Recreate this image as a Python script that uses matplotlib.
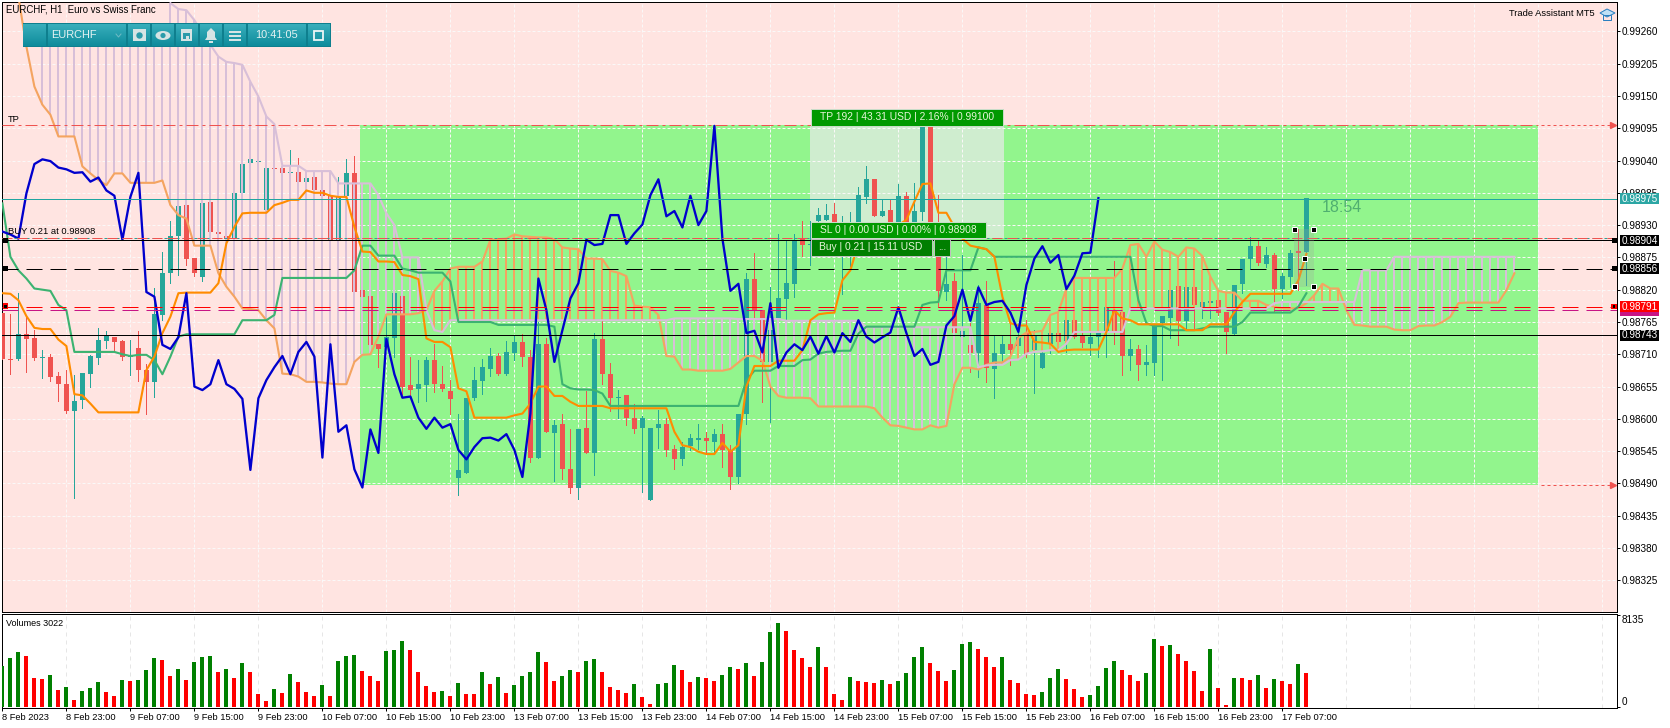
import matplotlib
matplotlib.use("Agg")
import matplotlib.pyplot as plt
from matplotlib.patches import Rectangle, Circle, Ellipse, Polygon
from matplotlib.colors import LinearSegmentedColormap
import numpy as np

plt.rcParams['font.family'] = ['Liberation Sans', 'DejaVu Sans']

# EURCHF H1 candles, prices in points (1e-5)
opens = [98780,98702,98702,98745,98738,98704,98705,98673,98659,98614,
 98632,98677,98704,98733,98739,98732,98706,98721,98683,98663,
 98777,98849,98911,98964,98874,98842,98969,98918,98912,98907,
 98985,99035,99038,98956,99028,99027,99018,99020,99004,99012,
 98989,98980,98905,98980,99019,98819,98809,98728,98723,98738,
 98809,98657,98651,98657,98700,98660,98648,98499,98508,98635,
 98665,98685,98707,98676,98713,98731,98705,98534,98728,98576,
 98591,98515,98483,98584,98542,98736,98677,98636,98640,98602,
 98584,98462,98584,98591,98548,98532,98554,98564,98568,98561,
 98574,98547,98501,98609,98839,98785,98697,98771,98804,98830,
 98907,98896,98937,98939,98949,98898,98916,98933,98978,99008,
 98945,98956,98936,98980,98936,98953,99099,98907,98816,98835,
 98740,98726,98713,98794,98685,98710,98727,98724,98746,98717,
 98687,98728,98746,98733,98769,98741,98727,98740,98746,98785,
 98782,98707,98719,98692,98695,98763,98771,98826,98767,98824,
 98791,98798,98803,98782,98744,98829,98873,98894,98864,98879,
 98821,98842,98886,98885]
closes = [98702,98701,98745,98736,98703,98706,98672,98660,98614,98630,
 98678,98707,98734,98742,98731,98706,98708,98684,98663,98778,
 98849,98912,98962,98873,98849,98967,98919,98914,98907,98984,
 99034,99042,99039,99028,99025,99019,99020,99004,99011,98989,
 98980,98905,98978,99019,98816,98808,98726,98719,98739,98814,
 98655,98649,98659,98700,98659,98651,98634,98513,98635,98666,
 98688,98707,98676,98714,98731,98706,98534,98727,98578,98589,
 98514,98483,98582,98542,98736,98676,98636,98638,98602,98583,
 98602,98585,98591,98547,98531,98552,98567,98568,98563,98574,
 98547,98501,98609,98839,98785,98697,98751,98805,98831,98905,
 98896,98898,98947,98947,98898,98916,98931,98981,99008,98945,
 98954,98926,98980,98930,98954,99099,98907,98818,98830,98746,
 98750,98713,98797,98687,98713,98727,98717,98740,98711,98741,
 98713,98746,98731,98768,98740,98730,98739,98747,98790,98746,
 98707,98719,98692,98697,98759,98775,98820,98767,98824,98794,
 98799,98801,98781,98748,98828,98873,98894,98866,98879,98821,
 98844,98882,98883,98976]
highs = [98780,98778,98814,98774,98751,98718,98711,98679,98683,98675,
 98678,98708,98754,98750,98740,98734,98734,98749,98694,98823,
 98884,98937,98962,98964,98874,98967,98969,98918,98912,98984,
 99034,99042,99040,99028,99028,99027,99058,99044,99011,99012,
 98989,98980,99012,99043,99048,98819,98809,98728,98777,98814,
 98809,98705,98700,98705,98728,98690,98666,98609,98635,98688,
 98702,98720,98713,98733,98743,98745,98717,98765,98737,98598,
 98609,98582,98582,98648,98746,98767,98695,98649,98640,98626,
 98604,98585,98615,98601,98555,98561,98575,98592,98578,98582,
 98591,98555,98609,98849,98882,98785,98824,98915,98903,98915,
 98937,98937,98959,98966,98968,98945,98952,98995,99031,99008,
 98972,98973,99000,98986,99001,99100,99100,98981,98877,98848,
 98879,98763,98828,98834,98743,98743,98765,98757,98768,98751,
 98746,98746,98751,98768,98769,98751,98751,98747,98790,98868,
 98782,98736,98726,98726,98759,98775,98820,98826,98824,98824,
 98799,98802,98805,98782,98828,98873,98909,98904,98892,98882,
 98848,98888,98924,98976]
lows = [98702,98677,98700,98680,98700,98670,98665,98631,98610,98466,
 98618,98655,98694,98720,98714,98700,98675,98665,98609,98638,
 98768,98831,98845,98862,98843,98834,98919,98914,98907,98907,
 98985,99035,99037,98956,99025,99019,99018,99004,99004,98989,
 98980,98905,98905,98980,98816,98808,98726,98688,98723,98706,
 98643,98638,98629,98631,98646,98647,98609,98470,98508,98632,
 98643,98673,98675,98675,98701,98690,98527,98534,98578,98494,
 98498,98474,98464,98541,98504,98659,98614,98602,98589,98576,
 98476,98462,98551,98537,98515,98521,98547,98548,98541,98541,
 98518,98480,98490,98592,98771,98629,98595,98760,98768,98808,
 98877,98862,98937,98939,98898,98813,98860,98930,98968,98945,
 98945,98926,98936,98930,98936,98938,98900,98791,98802,98744,
 98737,98680,98672,98663,98636,98694,98692,98706,98706,98644,
 98687,98713,98714,98714,98737,98723,98709,98706,98706,98728,
 98675,98683,98666,98675,98675,98666,98737,98726,98751,98751,
 98771,98771,98777,98713,98744,98814,98856,98862,98859,98782,
 98805,98825,98819,98828]

volumes = [3599,4337,4897,4543,2596,2508,2862,1534,1800,649,
 1446,1711,2242,1357,1003,2419,2331,2419,3304,4366,
 4189,2773,3393,2419,4012,4455,4484,3127,3393,2596,
 3924,3127,1180,561,1623,1269,2950,2242,1357,1003,
 1977,1003,4101,4543,4632,3216,2773,2331,4986,5074,
 5871,5074,3127,1888,1357,1446,1003,2154,1180,1151,
 3127,2065,2685,1269,1977,2773,3127,4897,4012,2331,
 2744,3275,3098,4071,4248,3098,1770,1505,1239,2036,
 885,266,2036,2124,3717,3275,2213,2655,2567,2301,
 2832,3540,3363,3894,2744,3983,6638,7434,6726,5045,
 4337,3540,5310,3540,1151,620,2655,2301,2213,2124,
 2390,2036,2301,3009,4425,5310,3894,3186,2301,3275,
 5576,5753,5133,4425,3540,4425,2390,2124,1151,1062,
 1328,2567,3363,2478,1593,885,1062,1859,3452,4071,
 3275,2832,2301,3009,6018,5399,5487,4691,4071,3186,
 1416,5133,1682,177,2567,2537,2390,2832,1682,2478,
 2301,2036,3806,3022]

# Ichimoku, same points unit
tenkan = [98814,98813,98802,98775,98755,98753,98753,98735,98724,98642,98640,98626,
 98611,98611,98611,98611,98611,98611,98683,98706,98746,98774,98814,98815,98815,98815,98815,
 98831,98899,98927,98950,98951,98951,98951,98964,98968,98973,98973,98989,98985,98985,
 98980,98978,98978,98927,98885,98884,98868,98868,98867,98845,98843,98838,98737,98731,98731,
 98722,98652,98647,98602,98602,98602,98602,98602,98606,98609,98626,98655,98655,98639,
 98639,98629,98622,98622,98622,98622,98618,98618,98618,98618,98618,98618,98618,98618,
 98578,98555,98552,98544,98540,98540,98559,98544,98555,98655,98690,98690,98690,
 98699,98699,98699,98717,98768,98778,98780,98781,98836,98853,98899,98922,98930,98930,98930,98930,
 98939,98970,99000,99001,98951,98951,98927,98907,98895,98892,98889,98876,98808,98763,98759,98759,
 98731,98730,98728,98714,98717,98718,98718,98718,98718,98748,98785,98771,98768,
 98761,98761,98761,98761,98761,98761,98751,98751,98751,98761,98761,98761,98782,98799,
 98813,98813,98813,98813,98813,98813,98836,98881]
kijun = [98967,98876,98853,98839,98822,98820,98818,98794,98785,
 98714,98714,98714,98714,98714,98714,98710,98707,98709,98709,98700,98676,98706,98740,
 98744,98744,98744,98744,98744,98744,98744,98768,98768,98768,98768,98777,
 98840,98840,98840,98840,98840,98840,98840,98840,98840,98853,98895,98895,98878,98878,98878,
 98856,98853,98849,98849,98849,98849,98834,98765,98765,98765,98765,98765,
 98760,98760,98760,98760,98760,98760,98760,98757,98659,98652,98650,98650,98649,98643,
 98622,98622,98622,98622,98622,98622,98622,98622,98622,98622,98622,98622,98622,98622,98622,98622,98622,
 98666,98682,98682,98682,98690,98690,98690,98700,98701,98711,98714,98715,98716,98716,98745,
 98757,98757,98757,98757,98757,98757,98757,98794,98798,98799,98853,98853,98853,98853,98892,98889,
 98876,98876,98876,98876,98876,98876,98876,98876,98876,98876,98876,98876,98876,98876,98876,98876,98876,98876,
 98802,98763,98758,98758,98751,98751,98751,98751,98754,98757,98757,98757,98757,98765,
 98781,98781,98781,98781,98781,98781,98791,98814]
senkou_a = [99410,99365,99319,99234,99166,99135,99118,99081,99081,99081,99030,99018,99007,98998,
 99018,99018,99002,99002,99002,99002,99006,98964,98947,98941,98895,98895,98895,98848,98825,98808,
 98788,98787,98785,98768,98754,98677,98676,98672,98663,98663,98662,98660,98659,98659,98697,98709,98710,98740,
 98778,98778,98778,98778,98780,98785,98818,98834,98856,98859,98859,98859,98868,98905,98906,98907,98914,
 98911,98910,98909,98909,98906,98892,98890,98889,98873,98873,98872,98852,98849,98843,98793,98791,98790,98777,
 98707,98706,98684,98684,98682,98682,98682,98682,98685,98696,98707,98707,98699,98655,98639,98636,98636,98636,98635,
 98621,98621,98621,98621,98621,98621,98621,98618,98602,98589,98588,98585,98582,98582,98589,98585,98588,98659,
 98687,98687,98684,98692,98696,98696,98706,98738,98747,98748,98750,98777,98782,98822,
 98840,98840,98840,98840,98840,98840,98856,98896,98898,98876,98902,98888,98884,98876,98892,98890,98877,98842,98818,
 98815,98815,98801,98801,98801,98794,98791,98788,98788,98789,98797,98811,98830,98822,98822,98785,98760,98759,
 98757,98757,98757,98752,98751,98751,98758,98759,98759,98765,98774,98797,98798,98798,98798,98798,98798,98819,98848]
nan = float('nan')
# the first bars of span B sit off the chart, the next ones behind the toolbar
senkou_b = [nan]*5 + [99262]*16 + [99308,99298,99296,99279,99257,99237,99217,99208,99206,99203,99174,99149,99115,99102] \
 + [99031]*3 + [99022]*4 + [99001]*5 + [98981,98950,98930,98875,98875,98875,98785,98751,98748] \
 + [98768]*28 + [98771]*8 + [98770]*6 + [98767]*10 + [98756]*14 \
 + [98688,98691,98692,98692,98700,98701,98711,98714,98715,98717,98717,98728] \
 + [98748]*7 + [98788]*18 + [98797] + [98799]*10 + [98853]*4 + [98876]*16

x_labels = ['8 Feb 2023','8 Feb 23:00','9 Feb 07:00','9 Feb 15:00','9 Feb 23:00','10 Feb 07:00','10 Feb 15:00',
 '10 Feb 23:00','13 Feb 07:00','13 Feb 15:00','13 Feb 23:00','14 Feb 07:00','14 Feb 15:00','14 Feb 23:00',
 '15 Feb 07:00','15 Feb 15:00','15 Feb 23:00','16 Feb 07:00','16 Feb 15:00','16 Feb 23:00','17 Feb 07:00']
y_ticks = [0.99260,0.99205,0.99150,0.99095,0.99040,0.98985,0.98930,0.98875,0.98820,
 0.98765,0.98710,0.98655,0.98600,0.98545,0.98490,0.98435,0.98380,0.98325]

TP_PRICE = 0.99100
SL_PRICE = 0.98487
ENTRY = 0.98908
BID = 0.98975
LEVEL_A = 0.98904
LEVEL_B = 0.98856
LEVEL_C = 0.98791
LEVEL_D = 0.98786
LEVEL_E = 0.98743

W, H = 1670, 728
PX = 0.72  # one pixel in points at dpi 100
SCALE_FONT = 10 * PX
TIME_FONT = 9.3 * PX
NOTE_FONT = 9.4 * PX
PANEL_FONT = 10.3 * PX

def price(a):
    return np.array(a, dtype=float) / 1e5

def add_ax(left, top, right, bottom):
    return fig.add_axes([left / W, 1 - bottom / H, (right - left) / W, (bottom - top) / H])

fig = plt.figure(figsize=(W / 100, H / 100), dpi=100, facecolor='white')
ax = add_ax(2, 2, 1617, 612)
sub = add_ax(2, 614, 1617, 708)

# main window
ax.set_facecolor('#FFE4E1')
ax.set_xlim(-0.05, 201.825)
ax.set_ylim(0.98271, 0.99310)
ax.add_patch(Rectangle((44.7, SL_PRICE), 147.2, TP_PRICE - SL_PRICE, fc='#92F58D', ec='none', zorder=0.2))
ax.add_patch(Rectangle((101, ENTRY), 24.2, TP_PRICE - ENTRY, fc='#CFEDCF', ec='none', zorder=0.3))

grid_idx = np.arange(0, 201, 8)
ax.set_xticks(grid_idx)
ax.set_yticks(y_ticks)
ax.set_yticklabels(['%.5f' % t for t in y_ticks], fontsize=SCALE_FONT)
ax.yaxis.tick_right()
ax.tick_params(axis='x', length=0, labelbottom=False)
ax.tick_params(axis='y', length=3 * PX, width=PX, pad=2 * PX)
ax.set_axisbelow(True)
ax.grid(True, color='#FAF8F8', lw=PX, ls=(0, (3, 2)))

# candles
x = np.arange(len(closes))
o, c, hi, lo = price(opens), price(closes), price(highs), price(lows)
up = c >= o
cols = np.where(up, '#26A69A', '#EF5350')
ax.vlines(x, lo, hi, colors=cols, lw=PX, zorder=3, antialiased=False)
ax.bar(x, np.maximum(np.abs(c - o), 0.00001), bottom=np.minimum(o, c), width=0.62, color=cols, zorder=3)

# cloud hatch
xc = np.arange(len(senkou_a))
a, b = price(senkou_a), price(senkou_b)
mask = ~np.isnan(b)
ax.vlines(xc[mask & (a > b)], a[mask & (a > b)], b[mask & (a > b)], colors='#F4A460', lw=2 * PX, zorder=4, antialiased=False)
ax.vlines(xc[mask & (a <= b)], a[mask & (a <= b)], b[mask & (a <= b)], colors='#D8BFD8', lw=2 * PX, zorder=4, antialiased=False)

ax.plot(xc, a, color='#F4A460', lw=2.1 * PX, zorder=4.5)
ax.plot(xc[21:], b[21:], color='#D8BFD8', lw=2.1 * PX, zorder=4.5)
ax.plot(x, price(kijun), color='#3CB371', lw=2.1 * PX, zorder=5)
ax.plot(x, price(tenkan), color='#FF8C00', lw=2.1 * PX, zorder=5.1)
# chikou is the close shifted back 26 bars
ax.plot(x[:-26], c[26:], color='#0000CD', lw=2.3 * PX, zorder=5.2)

# levels
ax.plot([0, 191.9], [TP_PRICE, TP_PRICE], color='#EF5350', lw=PX, ls=(0, (12, 4, 3, 4)), zorder=6)
ax.plot([192.3, 201.3], [TP_PRICE, TP_PRICE], color='#EF5350', lw=PX, ls=(0, (3, 3)), zorder=6)
ax.plot([192.3, 201.3], [SL_PRICE, SL_PRICE], color='#EF5350', lw=PX, ls=(0, (3, 3)), zorder=6)
ax.plot([201.3, 201.3], [TP_PRICE, SL_PRICE], ls='none', marker='>', ms=6 * PX, color='#EF5350', zorder=6)
ax.axhline(BID, color='#20A5A0', lw=PX, zorder=6)
ax.axhline(ENTRY, color='#26A69A', lw=PX, ls=(0, (3, 3)), zorder=6)
ax.axhline(ENTRY, color='#EF5350', lw=PX, ls=(0, (10, 5)), zorder=6.1)
ax.axhline(LEVEL_A, color='black', lw=PX, zorder=6)
ax.axhline(LEVEL_B, color='black', lw=PX, ls=(0, (16, 8)), zorder=6)
ax.axhline(LEVEL_C, color='#FF0000', lw=PX, ls=(0, (16, 8)), zorder=6)
ax.axhline(LEVEL_D, color='#C71585', lw=PX, ls=(0, (16, 8)), zorder=6)
ax.axhline(LEVEL_E, color='black', lw=PX, zorder=6)

for s in ax.spines.values():
    s.set_linewidth(PX)

# volumes window
sub.set_facecolor('white')
sub.set_xlim(ax.get_xlim())
sub.set_ylim(-88, 8223)
vol = np.array(volumes)
vol_cols = ['#008000' if i == 0 or vol[i] >= vol[i - 1] else '#FF0000' for i in range(len(vol))]
sub.bar(x, vol, width=0.5, color=vol_cols, zorder=3)
sub.vlines(grid_idx, -88, 8223, colors='#E6E6E6', lw=PX, linestyles=(0, (4, 4)), zorder=1)
sub.set_xticks(np.arange(len(x_labels)) * 8)
sub.set_xticklabels(x_labels, fontsize=TIME_FONT, ha='left')
sub.set_yticks([0, 8135])
sub.set_yticklabels(['0', '8135'], fontsize=SCALE_FONT)
sub.yaxis.tick_right()
sub.tick_params(axis='x', length=3 * PX, width=PX, pad=2 * PX)
sub.tick_params(axis='y', length=3 * PX, width=PX, pad=2 * PX)
tl = sub.get_yticklabels()
tl[0].set_va('bottom')
tl[1].set_va('top')
for s in sub.spines.values():
    s.set_linewidth(PX)

# pixel overlay for terminal widgets
ov = fig.add_axes([0, 0, 1, 1], zorder=10)
ov.patch.set_alpha(0)
ov.axis('off')

def box(x0, y0, x1, y1, fc, ec='none', lw=1.0, z=1, alpha=None):
    ov.add_patch(Rectangle((x0, y0), x1 - x0, y1 - y0, fc=fc, ec=ec, lw=lw * PX, zorder=z, alpha=alpha))

def label(px, py, s, color='black', size=NOTE_FONT, ha='left', z=3):
    ov.text(px, py, s, color=color, fontsize=size, ha=ha, va='center', zorder=z)

# header texts
label(6, 10, 'EURCHF, H1  Euro vs Swiss Franc', size=9.7 * PX)
label(1509, 13, 'Trade Assistant MT5')
ov.add_patch(Polygon([(1600, 13), (1607, 9), (1615, 13), (1607, 17)], fc='#BFE0F5', ec='#2A7FC0', lw=PX))
ov.add_patch(Polygon([(1603, 15), (1603, 20), (1611, 20), (1611, 15)], fc='none', ec='#2A7FC0', lw=PX))
label(8, 119.5, 'TP')
label(8, 232, 'BUY 0.21 at 0.98908')
label(6, 623, 'Volumes 3022', size=9 * PX)
label(1322, 207, '18:54', color='#4FAF70', size=16 * PX)

# toolbar
grad = LinearSegmentedColormap.from_list('bar', ['#38AEBB', '#0F8C9C'])
seg = [(23, 46), (48, 126), (128, 150), (152, 174), (176, 198), (200, 222), (224, 246), (248, 306), (308, 330)]
box(23, 23, 331, 47, '#0E7F8E')
for s0, s1 in seg:
    ov.imshow(np.linspace(0, 1, 24).reshape(-1, 1), extent=(s0, s1, 46, 24), aspect='auto', cmap=grad, zorder=1.1)
ICON = '#D6E4E4'
label(51, 35, 'EURCHF', color='#E4F2F2', size=11 * PX)
ov.plot([116, 118.5, 121], [34, 37, 34], color='#6FBAC4', lw=PX, zorder=2)
# camera
box(133, 29, 146, 41, ICON, z=2)
ov.add_patch(Circle((139.5, 35.5), 3.2, fc='#2A9BAA', ec='none', zorder=3))
# eye
ov.add_patch(Ellipse((163, 35.5), 15, 9, fc=ICON, ec='none', zorder=2))
ov.add_patch(Circle((163, 35.5), 2.6, fc='#2A9BAA', ec='none', zorder=3))
# calendar
box(181, 29, 192, 41, ICON, z=2)
box(183, 33, 190, 39, '#2A9BAA', z=3)
box(186, 36, 189, 39, ICON, z=4)
# bell
ov.add_patch(Polygon([(205, 40), (207, 37), (207, 32), (211, 28), (215, 32), (215, 37), (217, 40)], fc=ICON, ec='none', zorder=2))
box(209, 41, 213, 43, ICON, z=2)
# menu
for yy in (31, 35, 39):
    box(229, yy, 241, yy + 1.6, ICON, z=2)
label(277, 35, '10:41:05', color='#E4F2F2', size=11 * PX, ha='center')
box(314, 31, 323, 40, 'none', ec='#EEF6F6', lw=1.8, z=2)

# trade panels
PANEL_TXT = '#E6F5D8'
box(811, 109, 1003, 125.5, '#009900', ec='#C8DCC8')
label(907, 117.5, 'TP 192 | 43.31 USD | 2.16% | 0.99100', color=PANEL_TXT, size=PANEL_FONT, ha='center')
box(811, 222, 986, 238, '#009900', ec='#C8DCC8')
label(898, 230, 'SL 0 | 0.00 USD | 0.00% | 0.98908', color=PANEL_TXT, size=PANEL_FONT, ha='center')
box(811, 239, 932, 256, '#007F00', ec='#C0C0C0')
label(871, 247.5, 'Buy | 0.21 | 15.11 USD', color=PANEL_TXT, size=PANEL_FONT, ha='center')
box(934, 239, 950, 256, '#007F00', ec='#C0C0C0')
label(942, 247.5, '...', color=PANEL_TXT, size=PANEL_FONT, ha='center')

# level grips
for yy in (240.3, 268.5):
    box(2.5, yy - 2.5, 7.5, yy + 2.5, 'black', z=3)
    box(1611.5, yy - 2.5, 1616.5, yy + 2.5, 'black', z=3)
box(2.5, 303, 8, 309, '#FF0000', z=3)
box(3.8, 304.5, 6.8, 307.5, 'black', z=4)
box(1611, 303.5, 1616.5, 309, '#FF0000', z=3)
box(1612.5, 305, 1615, 307.5, 'black', z=4)

# selected candle handles
box(1294, 229, 1314, 287, '#A0A0A0', alpha=0.25, z=0.5)
for hx, hy in [(1294.5, 229.3), (1313.4, 229.3), (1294.5, 286.7), (1313.4, 286.7), (1304, 258)]:
    box(hx - 2.5, hy - 2.5, hx + 2.5, hy + 2.5, 'black', ec='white', z=3)

# price tags on the right scale
box(1620, 309, 1659, 315.5, '#C71585', z=2)
for yy, txt, fc in [(198.3, '0.98975', '#2CA6A4'), (240.3, '0.98904', 'black'), (268.5, '0.98856', 'black'),
                    (306.3, '0.98791', '#FF0000'), (335, '0.98743', 'black')]:
    box(1620, yy - 5.5, 1659, yy + 5.5, fc, z=3)
    label(1622, yy + 0.3, txt, color='white', size=SCALE_FONT, z=4)

ov.set_xlim(0, W)
ov.set_ylim(H, 0)

fig.savefig('out.png', dpi=100)
